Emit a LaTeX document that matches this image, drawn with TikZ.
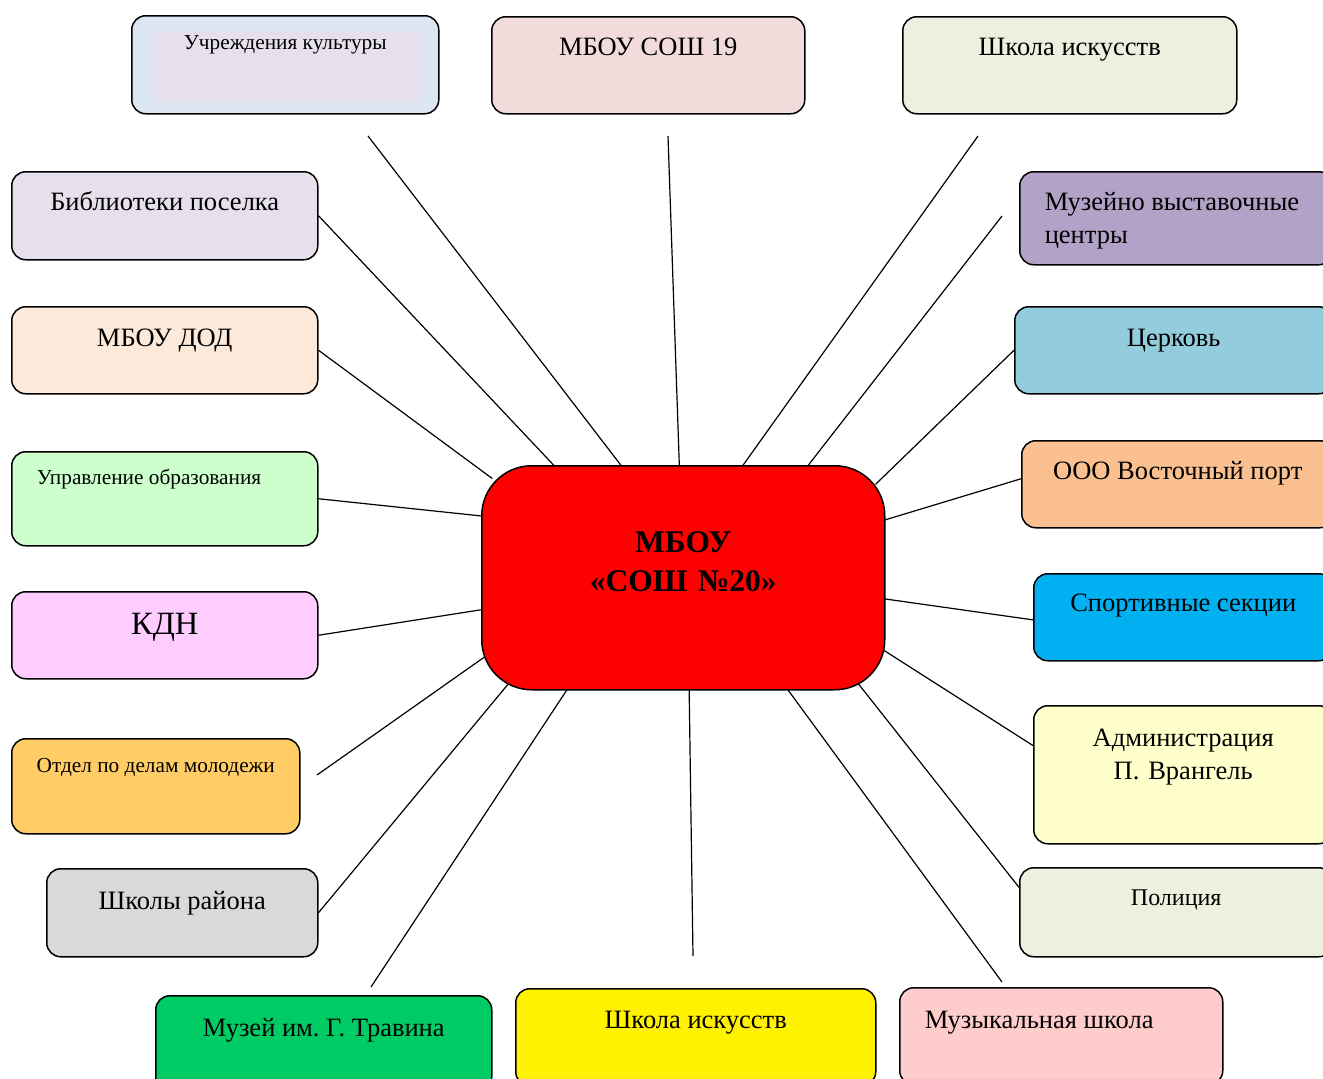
\documentclass[tikz,border=0pt]{standalone}
\usepackage{fontspec}
\setmainfont{Liberation Serif}
\frenchspacing
\usetikzlibrary{backgrounds}

\definecolor{kultblue}{HTML}{DCE6F2}
\definecolor{lavender}{HTML}{E5E0EC}
\definecolor{rose}{HTML}{F2DCDB}
\definecolor{sage}{HTML}{EBF1DE}
\definecolor{plum}{HTML}{B2A2C7}
\definecolor{peach}{HTML}{FDE9D9}
\definecolor{teal}{HTML}{93CDDD}
\definecolor{mint}{HTML}{CCFFCC}
\definecolor{apricot}{HTML}{FAC090}
\definecolor{pinky}{HTML}{FFCCFF}
\definecolor{sky}{HTML}{00B0F0}
\definecolor{amber}{HTML}{FFCC66}
\definecolor{cream}{HTML}{FFFFCC}
\definecolor{greyish}{HTML}{D9D9D9}
\definecolor{grass}{HTML}{00CC66}
\definecolor{salmon}{HTML}{FFCCCC}

\begin{document}
\begin{tikzpicture}[
  x=1pt, y=-1pt,
  unit/.style = {draw, line width=1.5pt, rounded corners=14pt, anchor=north west,
                 inner xsep=0pt, inner ysep=0pt, font=\fontsize{26.5}{33}\selectfont},
  small/.style = {font=\fontsize{21.3}{26}\selectfont},
  lefttext/.style = {inner xsep=25pt, align=flush left},
  link/.style = {line width=1.2pt, shorten <=-14pt},
]
  \path[use as bounding box] (0,0) rectangle (1323,1079);
  \clip (0,0) rectangle (1323,1079);

  % centre
  \node[unit, fill=red, rounded corners=50pt, text width=403pt, align=center,
        text height=87pt, text depth=137pt, font=\fontsize{31.5}{39}\bfseries]
        (mbou) at (481,465) {МБОУ\\«СОШ №20»};

  % top row
  \node[unit, small, fill=kultblue, minimum width=307pt, text height=34pt, text depth=64pt,
        path picture={\fill[lavender, sharp corners] ([xshift=21pt,yshift=-15pt]path picture bounding box.north west)
          rectangle ([xshift=-18pt,yshift=13pt]path picture bounding box.south east);}]
        (kult) at (131,15) {Учреждения культуры};
  \node[unit, fill=rose, minimum width=313pt, text height=39pt, text depth=58pt]
        (sosh) at (491,16) {МБОУ СОШ 19};
  \node[unit, fill=sage, minimum width=334pt, text height=39pt, text depth=58pt]
        (isk-top) at (902,16) {Школа искусств};

  % left column
  \node[unit, fill=lavender, minimum width=306pt, text height=39pt, text depth=49pt]
        (bibl) at (11,171) {Библиотеки поселка};
  \node[unit, fill=peach, minimum width=306pt, text height=40pt, text depth=47pt]
        (dod) at (11,306) {МБОУ ДОД};
  \node[unit, small, lefttext, fill=mint, text width=256pt, text height=33pt, text depth=61pt]
        (upr) at (11,451) {Управление образования};
  \node[unit, fill=pinky, minimum width=306pt, text height=43pt, text depth=44pt,
        font=\fontsize{32.5}{38}\selectfont]
        (kdn) at (11,591) {КДН};
  \node[unit, small, fill=amber, minimum width=288pt, text height=34pt, text depth=61pt]
        (otdel) at (11,738) {Отдел по делам молодежи};
  \node[unit, fill=greyish, minimum width=271pt, text height=41pt, text depth=47pt]
        (shkoly) at (46,868) {Школы района};

  % right column
  \node[unit, lefttext, fill=plum, text width=263pt, text height=39pt, text depth=54pt]
        (muzvyst) at (1019,171) {Музейно выставочные\\центры};
  \node[unit, fill=teal, minimum width=318pt, text height=40pt, text depth=47pt]
        (cerk) at (1014,306) {Церковь};
  \node[unit, fill=apricot, minimum width=312pt, text height=39pt, text depth=48pt]
        (port) at (1021,440) {ООО Восточный порт};
  \node[unit, fill=sky, minimum width=299pt, text height=38pt, text depth=49pt]
        (sport) at (1033,573) {Спортивные секции};
  \node[unit, fill=cream, text width=299pt, align=center, text height=41pt, text depth=97pt]
        (adm) at (1033,705) {Администрация\\П. Врангель};
  \node[unit, fill=sage, minimum width=313pt, text height=38pt, text depth=51pt,
        font=\fontsize{24}{29}\selectfont]
        (polic) at (1019,867) {Полиция};

  % bottom row
  \node[unit, fill=grass, minimum width=336pt, text height=41pt, text depth=54pt]
        (travin) at (155,995) {Музей им. Г. Травина};
  \node[unit, fill=yellow, minimum width=360pt, text height=40pt, text depth=57pt]
        (isk-bot) at (515,988) {Школа искусств};
  \node[unit, lefttext, fill=salmon, text width=273pt, text height=41pt, text depth=56pt]
        (muzyk) at (899,987) {Музыкальная школа};

  % free ends of the links
  \coordinate (kult-end) at (368,136);
  \coordinate (sosh-end) at (668,136);
  \coordinate (isk-top-end) at (978,136);
  \coordinate (muzvyst-end) at (1002,216);
  \coordinate (muzyk-end) at (1002,982);
  \coordinate (isk-bot-end) at (693,956);
  \coordinate (travin-end) at (371,987);
  \coordinate (otdel-end) at (317,775);

  \begin{scope}[on background layer]
    \draw[link] (mbou.119.5) -- (kult-end);
    \draw[link] (mbou.92.8) -- (sosh-end);
    \draw[link] (mbou.62) -- (isk-top-end);
    \draw[link] (mbou.42.4) -- (muzvyst-end);
    \draw[link] (mbou.27.9) -- (cerk.west);
    \draw[link] (mbou.16.3) -- (port.178);
    \draw[link] (mbou.-6.8) -- (sport.181);
    \draw[link] (mbou.-20.2) -- (adm.169);
    \draw[link] (mbou.-32.4) -- (polic.171);
    \draw[link] (mbou.-47.8) -- (muzyk-end);
    \draw[link] (mbou.-87.2) -- (isk-bot-end);
    \draw[link] (mbou.224.4) -- (travin-end);
    \draw[link] (mbou.212.5) -- (shkoly.east);
    \draw[link] (mbou.202.4) -- (otdel-end);
    \draw[link] (mbou.189.6) -- (kdn.east);
    \draw[link] (mbou.163.7) -- (upr.east);
    \draw[link] (mbou.152.2) -- (dod.east);
    \draw[link] (mbou.139.8) -- (bibl.east);
  \end{scope}
\end{tikzpicture}
\end{document}
